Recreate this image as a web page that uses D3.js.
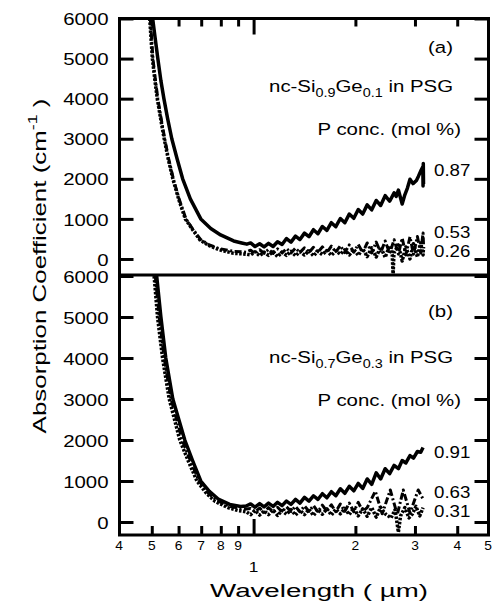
<!DOCTYPE html>
<html>
<head>
<meta charset="utf-8">
<script src="https://cdn.jsdelivr.net/npm/d3@7"></script>
<style>
  body { margin: 0; background: #fff; }
  svg text { font-family: "Liberation Sans", Arial, Helvetica, sans-serif; fill: #000; }
</style>
</head>
<body>
<svg id="chart" width="493" height="604"></svg>
<script>
// wavelength grid (um) used for the fringe region of every curve
const wlGrid = [0.980, 1.010, 1.042, 1.074, 1.107, 1.142, 1.177, 1.214, 1.251, 1.290, 1.330,
  1.371, 1.414, 1.458, 1.503, 1.549, 1.597, 1.647, 1.698, 1.750, 1.805, 1.861, 1.918,
  1.978, 2.039, 2.102, 2.167, 2.235, 2.304, 2.375, 2.449, 2.525, 2.603]

// panel (a) nc-Si0.9Ge0.1
const a087Edge = [[0.503, 6000], [0.51, 5600], [0.521, 5000], [0.532, 4450], [0.543, 4000], [0.557, 3500],
  [0.573, 3000], [0.594, 2500], [0.617, 2000], [0.650, 1500], [0.698, 1000], [0.747, 760], [0.799, 600],
  [0.873, 450], [0.922, 400], [0.955, 370]]
const a087Fringe = [400, 310, 380, 300, 390, 310, 430, 360, 510, 420, 570, 485, 645, 555, 730, 630, 810,
  715, 905, 805, 1010, 905, 1120, 1015, 1235, 1120, 1350, 1225, 1460, 1335, 1580, 1440, 1650]
const a087Tail = [[2.64, 1560], [2.68, 1720], [2.75, 1370], [2.80, 1600], [2.85, 1770], [2.90, 1990],
  [2.96, 1880], [3.03, 1960], [3.07, 2060], [3.13, 2220], [3.165, 2300], [3.17, 1820], [3.175, 2380], [3.18, 1870]]

const a053Edge = [[0.495, 6000], [0.504, 5000], [0.512, 4500], [0.521, 4000], [0.533, 3500], [0.546, 3000],
  [0.561, 2500], [0.579, 2000], [0.602, 1500], [0.631, 1000], [0.66, 750], [0.698, 480], [0.74, 350],
  [0.79, 260], [0.873, 190], [0.95, 170]]
const a053Fringe = [220, 130, 230, 140, 240, 140, 250, 150, 260, 150, 270, 160, 280, 160, 290, 170, 300,
  160, 320, 170, 330, 160, 350, 170, 360, 160, 400, 150, 420, 160, 450, 140, 480]
const a053Tail = [[2.68, 120], [2.75, 520], [2.82, 100], [2.90, 550], [2.97, 120], [3.05, 560],
  [3.12, 150], [3.17, 650], [3.18, 350]]

const a026Edge = [[0.493, 6000], [0.502, 5000], [0.51, 4500], [0.519, 4000], [0.531, 3500], [0.544, 3000],
  [0.559, 2500], [0.577, 2000], [0.600, 1500], [0.628, 1000], [0.658, 750], [0.695, 470], [0.74, 330],
  [0.79, 230], [0.873, 140], [0.95, 120]]
const a026Fringe = [100, 180, 80, 170, 90, 180, 60, 170, 90, 190, 80, 180, 100, 200, 80, 190, 110, 210,
  90, 200, 120, 230, 100, 240, 90, 260, 60, 280, 50, 300, 40, 330]
const a026Tail = [[2.57, 100], [2.585, -420], [2.60, 150], [2.68, 350], [2.75, -50], [2.82, 300],
  [2.90, 0], [2.97, 380], [3.05, 50], [3.12, 400], [3.17, 100], [3.18, 300]]

// panel (b) nc-Si0.7Ge0.3
const b091Edge = [[0.517, 6000], [0.532, 5000], [0.550, 4000], [0.577, 3000], [0.626, 2000], [0.66, 1500],
  [0.698, 1000], [0.74, 750], [0.789, 550], [0.85, 430], [0.916, 380], [0.95, 390]]
const b091Fringe = [440, 360, 450, 370, 460, 380, 480, 400, 510, 430, 550, 460, 600, 510, 640, 550, 690,
  590, 740, 640, 810, 700, 870, 760, 940, 820, 1050, 920, 1200, 1050, 1300, 1180, 1380]
const b091Tail = [[2.68, 1300], [2.75, 1500], [2.82, 1440], [2.90, 1620], [2.97, 1560], [3.05, 1720],
  [3.12, 1700], [3.17, 1820]]

const b063Edge = [[0.512, 6000], [0.526, 5000], [0.544, 4000], [0.57, 3000], [0.615, 2000], [0.65, 1500],
  [0.69, 1000], [0.735, 700], [0.78, 520], [0.85, 380], [0.916, 330], [0.95, 320]]
const b063Fringe = [330, 250, 340, 240, 350, 250, 360, 250, 370, 260, 380, 250, 390, 260, 400, 250, 410,
  260, 420, 250, 440, 260, 460, 250, 480, 260]
const b063Tail = [[2.167, 350], [2.29, 750], [2.40, 200], [2.536, 780], [2.66, 180], [2.77, 780],
  [2.90, 220], [3.067, 780], [3.17, 560]]

const b031Edge = [[0.508, 6000], [0.52, 5000], [0.538, 4000], [0.563, 3000], [0.605, 2000], [0.64, 1500],
  [0.68, 1000], [0.725, 700], [0.77, 500], [0.84, 350], [0.9, 280], [0.95, 250]]
const b031Fringe = [180, 280, 170, 270, 180, 290, 160, 280, 190, 300, 170, 290, 180, 310, 160, 300, 190,
  320, 170, 310, 200, 330, 180, 340, 150, 320, 140, 350, 120, 360, 200]
const b031Tail = [[2.55, 100], [2.62, 300], [2.68, -250], [2.72, 150], [2.80, 350], [2.88, 100],
  [2.95, 200], [3.02, 380], [3.10, 150], [3.17, 350]]

// axis values
const yTicks = [0, 1000, 2000, 3000, 4000, 5000, 6000]
const minorTicks = [0.5, 0.6, 0.7, 0.8, 0.9, 2, 3, 4]
const majorTicks = [1]
const xLabelValues = [0.4, 0.5, 0.6, 0.7, 0.8, 0.9, 2, 3, 4, 5]
const xTickLabels = ['4', '5', '6', '7', '8', '9', '2', '3', '4', '5']

function series(edge, fringe, tail) {
  return edge.concat(fringe.map((v, i) => [wlGrid[i], v])).concat(tail)
}

const styles = {
  solid: { dash: null, width: 3.5 },
  dashdot: { dash: '7,2.5,2,2.5', width: 3 },
  dotted: { dash: '2.5,1.5', width: 3.5 }
}

const panels = [
  {
    tag: '(a)', top: 18.5, bottom: 275, yMin: -400, alloy: ['0.9', '0.1'],
    tagY: 53, alloyY: 92, concY: 135,
    lines: [
      { label: '0.26', data: series(a026Edge, a026Fringe, a026Tail), style: 'dotted', labelY: 257 },
      { label: '0.53', data: series(a053Edge, a053Fringe, a053Tail), style: 'dashdot', labelY: 238 },
      { label: '0.87', data: series(a087Edge, a087Fringe, a087Tail), style: 'solid', labelY: 176 }
    ]
  },
  {
    tag: '(b)', top: 276, bottom: 535, yMin: -317, alloy: ['0.7', '0.3'],
    tagY: 317, alloyY: 363, concY: 406,
    lines: [
      { label: '0.31', data: series(b031Edge, b031Fringe, b031Tail), style: 'dotted', labelY: 517 },
      { label: '0.63', data: series(b063Edge, b063Fringe, b063Tail), style: 'dashdot', labelY: 498 },
      { label: '0.91', data: series(b091Edge, b091Fringe, b091Tail), style: 'solid', labelY: 458 }
    ]
  }
]

const frameLeft = 119.5
const frameRight = 488.5
const svg = d3.select('#chart')

const x = d3.scaleLog()
  .domain([0.4, 5])
  .range([119, 490])

function addText(g, str, px, py, size, k, anchor) {
  return g.append('text')
    .attr('transform', 'translate(' + px + ',' + py + ') scale(' + k + ',1)')
    .attr('font-size', size)
    .attr('text-anchor', anchor || 'start')
    .text(str)
}

function cleanAxis(g) {
  g.select('.domain').remove()
  g.selectAll('line').attr('stroke-width', 3)
}

panels.forEach((p, pi) => {
  const y = d3.scaleLinear()
    .domain([p.yMin, 6000])
    .range([p.bottom, p.top])

  const g = svg.append('g')

  g.append('clipPath')
    .attr('id', 'clip' + pi)
    .append('rect')
    .attr('x', frameLeft)
    .attr('y', p.top - (pi === 0 ? 1 : 0))
    .attr('width', frameRight - frameLeft)
    .attr('height', p.bottom - p.top + 1)

  const line = d3.line()
    .x((d) => x(d[0]))
    .y((d) => y(d[1]))

  g.append('g')
    .attr('clip-path', 'url(#clip' + pi + ')')
    .selectAll('path')
    .data(p.lines)
    .enter()
    .append('path')
    .attr('d', (d) => line(d.data))
    .attr('fill', 'none')
    .attr('stroke', '#000')
    .attr('stroke-width', (d) => styles[d.style].width)
    .attr('stroke-dasharray', (d) => styles[d.style].dash)
    .attr('stroke-linejoin', 'round')

  // left axis with labels
  const yLeft = g.append('g')
    .attr('transform', 'translate(' + frameLeft + ',0)')
    .call(d3.axisLeft(y).tickValues(yTicks).tickSize(-14).tickFormat(d3.format('d')))
  cleanAxis(yLeft)
  yLeft.selectAll('text')
    .attr('x', null)
    .attr('dy', '0.36em')
    .attr('font-size', 17)
    .attr('transform', 'translate(-11,0) scale(1.2,1)')

  // right axis, ticks only
  const yRight = g.append('g')
    .attr('transform', 'translate(' + frameRight + ',0)')
    .call(d3.axisRight(y).tickValues(yTicks).tickSize(-14).tickFormat(''))
  cleanAxis(yRight)

  // annotations
  addText(g, p.tag, 453, p.tagY, 17, 1.2, 'end')
  const alloy = g.append('text')
    .attr('transform', 'translate(453,' + p.alloyY + ') scale(1.2,1)')
    .attr('font-size', 17)
    .attr('text-anchor', 'end')
  alloy.append('tspan').text('nc-Si')
  alloy.append('tspan').attr('font-size', 12).attr('dy', 5).text(p.alloy[0])
  alloy.append('tspan').attr('dy', -5).text('Ge')
  alloy.append('tspan').attr('font-size', 12).attr('dy', 5).text(p.alloy[1])
  alloy.append('tspan').attr('dy', -5).text(' in PSG')
  addText(g, 'P conc. (mol %)', 461, p.concY, 17, 1.2, 'end')

  p.lines.forEach((l) => {
    addText(g, l.label, 434, l.labelY, 17, 1.1, 'start')
  })
})

// x ticks: top of panel (a), bottom of panel (b)
const topMinor = svg.append('g')
  .attr('transform', 'translate(0,' + panels[0].top + ')')
  .call(d3.axisTop(x).tickValues(minorTicks).tickSize(-8).tickFormat(''))
cleanAxis(topMinor)
const topMajor = svg.append('g')
  .attr('transform', 'translate(0,' + panels[0].top + ')')
  .call(d3.axisTop(x).tickValues(majorTicks).tickSize(-16).tickFormat(''))
cleanAxis(topMajor)
const botMinor = svg.append('g')
  .attr('transform', 'translate(0,' + panels[1].bottom + ')')
  .call(d3.axisBottom(x).tickValues(minorTicks).tickSize(-9).tickFormat(''))
cleanAxis(botMinor)
const botMajor = svg.append('g')
  .attr('transform', 'translate(0,' + panels[1].bottom + ')')
  .call(d3.axisBottom(x).tickValues(majorTicks).tickSize(-16).tickFormat(''))
cleanAxis(botMajor)

// frame
svg.append('rect')
  .attr('x', frameLeft)
  .attr('y', panels[0].top)
  .attr('width', frameRight - frameLeft)
  .attr('height', panels[1].bottom - panels[0].top)
  .attr('fill', 'none')
  .attr('stroke', '#000')
  .attr('stroke-width', 3)
svg.append('line')
  .attr('x1', frameLeft)
  .attr('x2', frameRight)
  .attr('y1', 275)
  .attr('y2', 275)
  .attr('stroke', '#000')
  .attr('stroke-width', 3.2)

// x tick labels
xLabelValues.forEach((v, i) => {
  addText(svg, xTickLabels[i], x(v) - (v === 5 ? 2 : 0), 550, 12, 1.15, 'middle')
})
addText(svg, '1', x(1), 572, 15, 1.15, 'middle')

// axis titles
const xTitle = addText(svg, 'Wavelength ( \u00b5m)', 0, 0, 19, 1, 'middle')
const xw = xTitle.node().getBBox().width
xTitle.attr('transform', 'translate(319,597) scale(' + (218 / xw) + ',1)')

const yTitle = svg.append('text')
  .attr('font-size', 19)
  .attr('text-anchor', 'middle')
yTitle.append('tspan').text('Absorption Coefficient (cm')
yTitle.append('tspan').attr('font-size', 13).attr('dy', -9).text('-1')
yTitle.append('tspan').attr('dy', 9).text(' )')
const yw = yTitle.node().getBBox().width
yTitle.attr('transform', 'translate(46,266) rotate(-90) scale(' + (335 / yw) + ',1)')
</script>
</body>
</html>
